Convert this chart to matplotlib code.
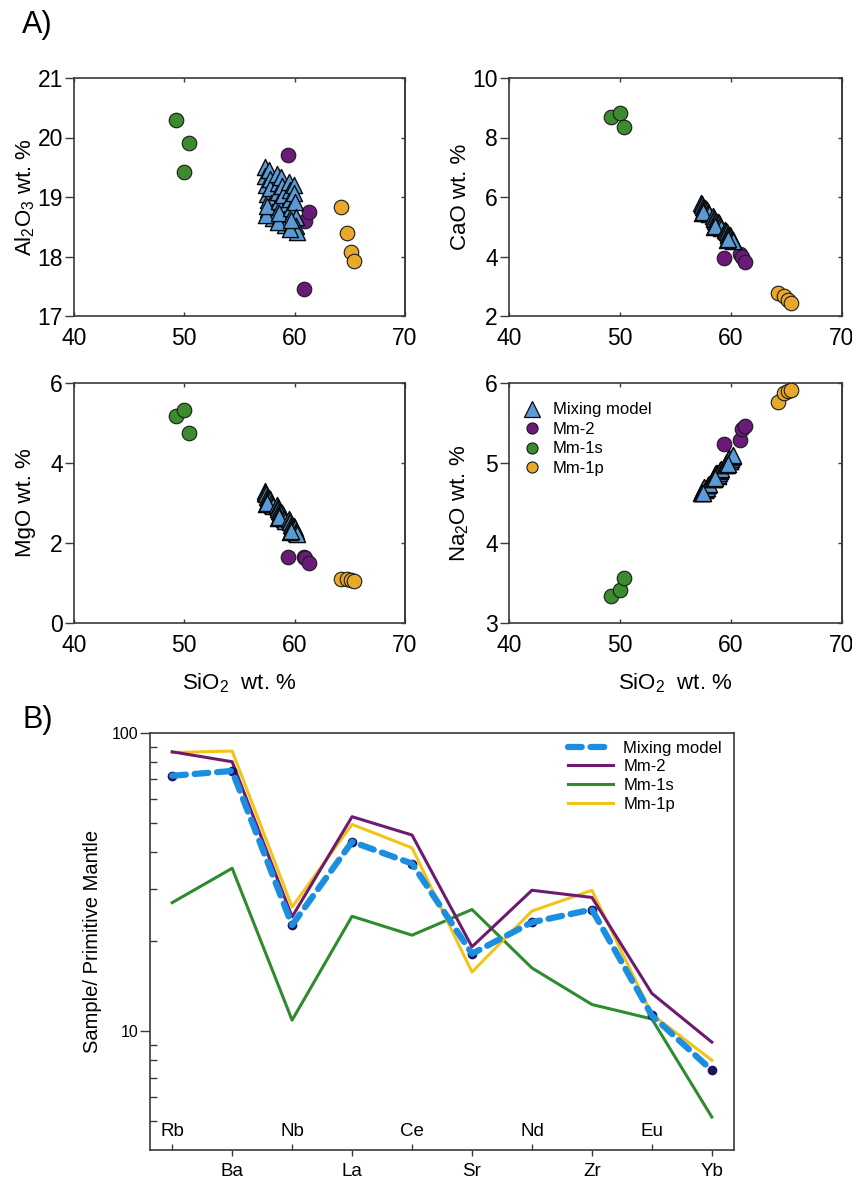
import matplotlib
matplotlib.use("Agg")
import matplotlib.pyplot as plt
import matplotlib.transforms as mtransforms
from matplotlib.lines import Line2D
from matplotlib.ticker import FixedLocator, NullFormatter
import numpy as np

plt.rcParams["font.family"] = ["Liberation Sans", "DejaVu Sans"]
plt.rcParams["mathtext.default"] = "regular"

# ---------------- data: panel A (major oxides, wt. %) ----------------
# Mm-1s (green)
s1_sio2 = [49.2, 50.0, 50.4]
s1_al2o3 = [20.29, 19.42, 19.90]
s1_cao = [8.69, 8.83, 8.36]
s1_mgo = [5.18, 5.33, 4.75]
s1_na2o = [3.34, 3.41, 3.56]

# Mm-2 (purple)
m2_sio2 = [59.4, 60.85, 60.95, 61.3]
m2_al2o3 = [19.70, 17.45, 18.60, 18.75]
m2_cao = [3.96, 4.08, 3.97, 3.83]
m2_mgo = [1.64, 1.66, 1.62, 1.51]
m2_na2o = [5.24, 5.29, 5.42, 5.46]

# Mm-1p (yellow)
p1_sio2 = [64.2, 64.75, 65.15, 65.4]
p1_al2o3 = [18.83, 18.40, 18.07, 17.92]
p1_cao = [2.76, 2.67, 2.54, 2.45]
p1_mgo = [1.11, 1.11, 1.08, 1.06]
p1_na2o = [5.76, 5.87, 5.90, 5.91]

# Mixing model (triangles)
mix_sio2 = [57.3, 57.35, 57.4, 57.5, 57.55, 57.6, 57.7, 57.75, 57.8, 57.9, 57.95, 58.0, 57.4, 57.5,
            58.4, 58.45, 58.5, 58.6, 58.65, 58.7, 58.8, 58.85, 58.9, 59.0, 59.05, 59.1, 58.5, 58.6,
            59.5, 59.55, 59.6, 59.7, 59.75, 59.8, 59.9, 59.95, 60.0, 60.1, 60.15, 60.2, 59.6, 59.7]
mix_al2o3 = [19.50, 19.35, 19.20, 19.05, 18.95, 18.80, 19.45, 19.30, 19.15, 18.90, 18.75, 18.65, 18.70, 18.85,
             19.38, 19.23, 19.08, 18.93, 18.83, 18.68, 19.33, 19.18, 19.03, 18.78, 18.63, 18.53, 18.58, 18.73,
             19.26, 19.11, 18.96, 18.81, 18.71, 18.56, 19.21, 19.06, 18.91, 18.66, 18.51, 18.41, 18.46, 18.61]
mix_cao = [5.80, 5.76, 5.72, 5.66, 5.63, 5.58, 5.62, 5.60, 5.56, 5.50, 5.46, 5.42, 5.45, 5.48,
           5.35, 5.31, 5.27, 5.21, 5.18, 5.13, 5.17, 5.15, 5.11, 5.05, 5.01, 4.97, 5.00, 5.03,
           4.90, 4.86, 4.82, 4.76, 4.73, 4.68, 4.72, 4.70, 4.66, 4.60, 4.56, 4.52, 4.55, 4.58]
mix_mgo = [3.30, 3.26, 3.22, 3.16, 3.13, 3.08, 3.13, 3.10, 3.07, 3.00, 2.96, 2.92, 2.98, 3.00,
           2.94, 2.90, 2.86, 2.80, 2.77, 2.72, 2.77, 2.74, 2.71, 2.64, 2.60, 2.56, 2.62, 2.64,
           2.60, 2.56, 2.52, 2.46, 2.43, 2.38, 2.43, 2.40, 2.37, 2.30, 2.26, 2.22, 2.28, 2.30]
mix_na2o = [4.62, 4.64, 4.65, 4.68, 4.69, 4.70, 4.66, 4.67, 4.69, 4.72, 4.73, 4.74, 4.62, 4.63,
            4.80, 4.82, 4.83, 4.86, 4.87, 4.88, 4.84, 4.85, 4.87, 4.90, 4.91, 4.92, 4.80, 4.81,
            4.98, 5.00, 5.01, 5.04, 5.05, 5.06, 5.02, 5.03, 5.05, 5.08, 5.09, 5.10, 4.98, 4.99]

# ---------------- data: panel B (sample / primitive mantle) ----------------
elements = ["Rb", "Ba", "Nb", "La", "Ce", "Sr", "Nd", "Zr", "Eu", "Yb"]
spider_mix = [71.9, 74.6, 22.7, 43.2, 36.5, 18.2, 23.2, 25.6, 11.3, 7.4]
spider_m2 = [86.5, 80.1, 24.2, 52.4, 45.5, 19.2, 29.7, 28.1, 13.4, 9.2]
spider_1s = [27.0, 35.2, 10.9, 24.3, 21.0, 25.6, 16.3, 12.3, 11.0, 5.16]
spider_1p = [86.0, 87.0, 26.1, 49.4, 41.2, 15.8, 25.3, 29.7, 11.4, 8.0]

# ---------------- styles ----------------
c_mix = "#5a9ad6"
c_m2 = "#6a1b7a"
c_1s = "#3d8b2f"
c_1p = "#e8a92a"
spine_c = "#3a3a3a"

W, H = 853, 1179


def box(l, t, r, b):
    return [l / W, 1 - b / H, (r - l) / W, (b - t) / H]


fig = plt.figure(figsize=(W / 100, H / 100), dpi=100)

ax1 = fig.add_axes(box(74, 78, 405, 316))
ax2 = fig.add_axes(box(509, 78, 842, 316))
ax3 = fig.add_axes(box(74, 383, 405, 623))
ax4 = fig.add_axes(box(509, 383, 842, 623))
axb = fig.add_axes(box(150, 733, 734, 1150))

panels = [
    (ax1, s1_al2o3, m2_al2o3, p1_al2o3, mix_al2o3, (17, 21), [17, 18, 19, 20, 21],
     "Al$_2$O$_3$ wt. %", False),
    (ax2, s1_cao, m2_cao, p1_cao, mix_cao, (2, 10), [2, 4, 6, 8, 10],
     "CaO wt. %", False),
    (ax3, s1_mgo, m2_mgo, p1_mgo, mix_mgo, (0, 6), [0, 2, 4, 6],
     "MgO wt. %", True),
    (ax4, s1_na2o, m2_na2o, p1_na2o, mix_na2o, (3, 6), [3, 4, 5, 6],
     "Na$_2$O wt. %", True),
]

for ax, g, pu, ye, mx, ylim, yt, ylab, xl in panels:
    ax.scatter(s1_sio2, g, s=110, c=c_1s, edgecolors="#1a1a1a", linewidths=0.8, zorder=3)
    ax.scatter(m2_sio2, pu, s=110, c=c_m2, edgecolors="#1a1a1a", linewidths=0.8, zorder=3)
    ax.scatter(p1_sio2, ye, s=110, c=c_1p, edgecolors="#1a1a1a", linewidths=0.8, zorder=3)
    ax.scatter(mix_sio2, mx, s=135, marker="^", c=c_mix, edgecolors="#0a0a0a",
               linewidths=1.0, zorder=4)
    ax.set_xlim(40, 70)
    ax.set_ylim(*ylim)
    ax.set_xticks([40, 50, 60, 70])
    ax.set_yticks(yt)
    ax.tick_params(axis="y", direction="out", length=6.5, width=1, pad=1.5,
                   labelsize=16.5, color=spine_c)
    ax.tick_params(axis="x", direction="in", length=3, width=1, pad=8,
                   labelsize=16.5, top=True, color=spine_c)
    sec = ax.secondary_yaxis("right")
    sec.set_yticks(yt)
    sec.tick_params(direction="in", length=3, width=1, labelright=False, color=spine_c)
    sec.spines["right"].set_color(spine_c)
    sec.spines["right"].set_linewidth(1.2)
    for sp in ax.spines.values():
        sp.set_color(spine_c)
        sp.set_linewidth(1.2)
    ax.set_ylabel(ylab, fontsize=16, va="baseline")
    ax.yaxis.set_label_coords(-43 / 332, 0.5)
    if xl:
        ax.set_xlabel("SiO$_2$  wt. %", fontsize=16, va="baseline")
        ax.xaxis.set_label_coords(0.5, -66 / 240)

handles = [
    Line2D([], [], ls="none", marker="^", ms=12, mfc=c_mix, mec="#0a0a0a", mew=0.9),
    Line2D([], [], ls="none", marker="o", ms=8, mfc=c_m2, mec="#1a1a1a", mew=0.8),
    Line2D([], [], ls="none", marker="o", ms=8, mfc=c_1s, mec="#1a1a1a", mew=0.8),
    Line2D([], [], ls="none", marker="o", ms=8, mfc=c_1p, mec="#1a1a1a", mew=0.8),
]
ax4.legend(handles, ["Mixing model", "Mm-2", "Mm-1s", "Mm-1p"], loc="upper left",
           bbox_to_anchor=(0.044, 0.919), frameon=False, fontsize=12,
           borderpad=0, borderaxespad=0, handlelength=1.0, handletextpad=0.75,
           labelspacing=0.27)

# ---------------- panel B ----------------
x = np.arange(len(elements))
axb.plot(x, spider_1s, color="#2e8b2e", lw=2.2, label="Mm-1s", zorder=2)
axb.plot(x, spider_1p, color="#f2c318", lw=2.2, label="Mm-1p", zorder=2)
axb.plot(x, spider_m2, color="#6d1a70", lw=2.2, label="Mm-2", zorder=3)
axb.plot(x, spider_mix, ls="none", marker="o", ms=6, color="#1b1464", zorder=4)
axb.plot(x, spider_mix, color="#1c8ee0", lw=4.5, dashes=(2.2, 1.4),
         dash_capstyle="round", label="Mixing model", zorder=5)

axb.set_yscale("log")
axb.set_ylim(4, 100)
axb.set_xlim(-0.37, 9.37)
axb.yaxis.set_major_locator(FixedLocator([10, 100]))
axb.yaxis.set_minor_locator(FixedLocator([5, 6, 7, 8, 9, 20, 30, 40, 50, 60, 70, 80, 90]))
axb.yaxis.set_minor_formatter(NullFormatter())
axb.set_yticklabels(["10", "100"])
axb.tick_params(axis="y", which="major", direction="out", length=7, width=1,
                pad=1.5, labelsize=11.5, color=spine_c)
axb.tick_params(axis="y", which="minor", direction="in", length=5, width=1, color=spine_c)

axb.set_xticks(x[1::2])
axb.set_xticklabels(elements[1::2])
axb.set_xticks(x[0::2], minor=True)
axb.tick_params(axis="x", which="major", direction="out", length=4.5, width=1,
                pad=5, labelsize=13.5, color=spine_c)
axb.tick_params(axis="x", which="minor", direction="in", length=4.5, width=1, color=spine_c)
trans = mtransforms.blended_transform_factory(axb.transData, axb.transAxes)
for i in x[0::2]:
    axb.text(i, 0.034, elements[i], transform=trans, ha="center", va="baseline",
             fontsize=13.5)
for sp in axb.spines.values():
    sp.set_color(spine_c)
    sp.set_linewidth(1.2)

axb.set_ylabel("Sample/ Primitive Mantle", fontsize=14.5, va="baseline")
axb.yaxis.set_label_coords(-52 / 584, 0.5)

h, l = axb.get_legend_handles_labels()
order = [l.index(n) for n in ["Mixing model", "Mm-2", "Mm-1s", "Mm-1p"]]
axb.legend([h[i] for i in order], [l[i] for i in order], loc="upper left",
           bbox_to_anchor=(0.716, 0.982), frameon=False, fontsize=12,
           borderpad=0, borderaxespad=0, handlelength=2.7, handletextpad=0.6,
           labelspacing=0.22)

fig.text(22 / W, 1 - 33 / H, "A)", fontsize=22, va="baseline")
fig.text(23 / W, 1 - 728 / H, "B)", fontsize=22, va="baseline")

fig.savefig("out.png", dpi=100)
